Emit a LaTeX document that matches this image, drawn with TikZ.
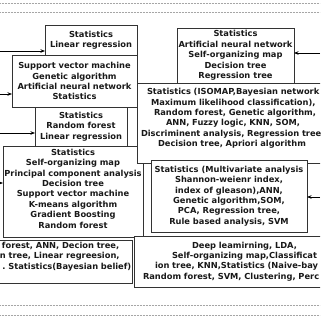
\documentclass[tikz,border=0pt]{standalone}
\usepackage{fontspec}
\setmainfont{DejaVu Sans}
\usetikzlibrary{arrows.meta}

\tikzset{
  methodbox/.style={
    draw=black!80, fill=white, line width=0.8pt,
    align=center, inner sep=1pt, text=black!90,
    font=\fontsize{8.3}{10.4}\selectfont\bfseries
  },
  cutbox/.style={
    methodbox, align=left, inner xsep=3pt
  },
  feedarrow/.style={
    draw=black, line width=0.7pt,
    -{Stealth[length=4.5pt,width=3.5pt]}
  },
  sepline/.style={
    draw=gray!70, line width=0.5pt, densely dotted
  },
}

\begin{document}
\begin{tikzpicture}[x=1pt, y=-1pt, every node/.style={outer sep=0pt}]

\useasboundingbox (0,0) rectangle (320,320);
\fill[white] (0,0) rectangle (320,320);
\clip (0,0) rectangle (320,320);

%% Separators
\draw[sepline] (0,3.5) -- (320,3.5);
\draw[sepline] (0,12.5) -- (320,12.5);
\draw[sepline] (0,305) -- (320,305);
\draw[sepline] (0,315) -- (320,315);

%% Left column
\node[methodbox, anchor=north west, minimum width=92pt, minimum height=30pt]
  (linreg) at (45,25) {Statistics\\Linear regression};

\node[methodbox, anchor=north west, minimum width=125pt, minimum height=51.5pt]
  (svmbox) at (12,55.5)
  {Support vector machine\\Genetic algorithm\\Artificial neural network\\Statistics};

\node[methodbox, anchor=north west, minimum width=92pt, minimum height=39pt]
  (rfbox) at (35,107) {Statistics\\Random forest\\Linear regression};

\node[methodbox, anchor=north west, minimum width=140pt, minimum height=91pt,
      text depth=6pt]
  (pcabox) at (3,146)
  {Statistics\\Self-organizing map\\Principal component analysis\\Decision tree\\
   Support vector machine\\K-means algorithm\\Gradient Boosting\\Random forest};

%% Right column
\node[methodbox, anchor=north west, minimum width=117pt, minimum height=55pt]
  (annbox) at (177,28)
  {Statistics\\Artificial neural network\\Self-organizing map\\Decision tree\\Regression tree};

\node[cutbox, anchor=north west, text width=210pt, minimum height=80pt]
  (isomapbox) at (137,83)
  {\mbox{\hspace*{7pt}Statistics (ISOMAP,Bayesian network}\\
   \mbox{\hspace*{11pt}Maximum likelihood classification),}\\
   \mbox{\hspace*{14pt}Random forest, Genetic algorithm,}\\
   \mbox{\hspace*{26pt}ANN, Fuzzy logic, KNN, SOM,}\\
   \mbox{\hspace*{1pt}Discriminent analysis, Regression tree}\\
   \mbox{\hspace*{18pt}Decision tree, Apriori algorithm}\par\vspace{9pt}};

\node[methodbox, anchor=north west, minimum width=156pt, minimum height=72pt]
  (shannonbox) at (151,160)
  {Statistics (Multivariate analysis\\Shannon-weienr index,\\index of gleason),ANN,\\
   Genetic algorithm,SOM,\\PCA, Regression tree,\\Rule based analysis, SVM};

%% Bottom row
\node[cutbox, anchor=north west, text width=146pt, minimum height=43pt]
  (bayesbox) at (-20,240)
  {\mbox{\hspace*{19pt}forest, ANN, Decion tree,}\\
   \mbox{\hspace*{17pt}n tree, Linear regreesion,}\\
   \mbox{\hspace*{19.5pt}.\ Statistics(Bayesian belief)}\par\vspace{10pt}};

\node[cutbox, anchor=north west, text width=220pt, minimum height=51pt]
  (deepbox) at (134,236)
  {\mbox{\hspace*{55pt}Deep leamirning, LDA,}\\
   \mbox{\hspace*{35pt}Self-organizing map,Classificat}\\
   \mbox{\hspace*{18pt}ion tree, KNN,Statistics (Naive-bay}\\
   \mbox{\hspace*{6pt}Random forest, SVM, Clustering, Perc}};

%% Inputs
\coordinate (srcA) at (0,51);
\coordinate (srcB) at (0,94);
\coordinate (srcC) at (0,133);
\coordinate (srcD) at (0,183);
\coordinate (srcF) at (320,53);
\coordinate (srcH) at (320,197);

\draw[feedarrow] (srcA) -- (srcA -| linreg.west);
\draw[feedarrow] (srcB) -- (srcB -| svmbox.west);
\draw[feedarrow] (srcC) -- (srcC -| rfbox.west);
\draw[feedarrow] (srcD) -- (srcD -| pcabox.west);
\draw[feedarrow] (srcF) -- (srcF -| annbox.east);
\draw[feedarrow] (srcH) -- (srcH -| shannonbox.east);

\end{tikzpicture}
\end{document}
